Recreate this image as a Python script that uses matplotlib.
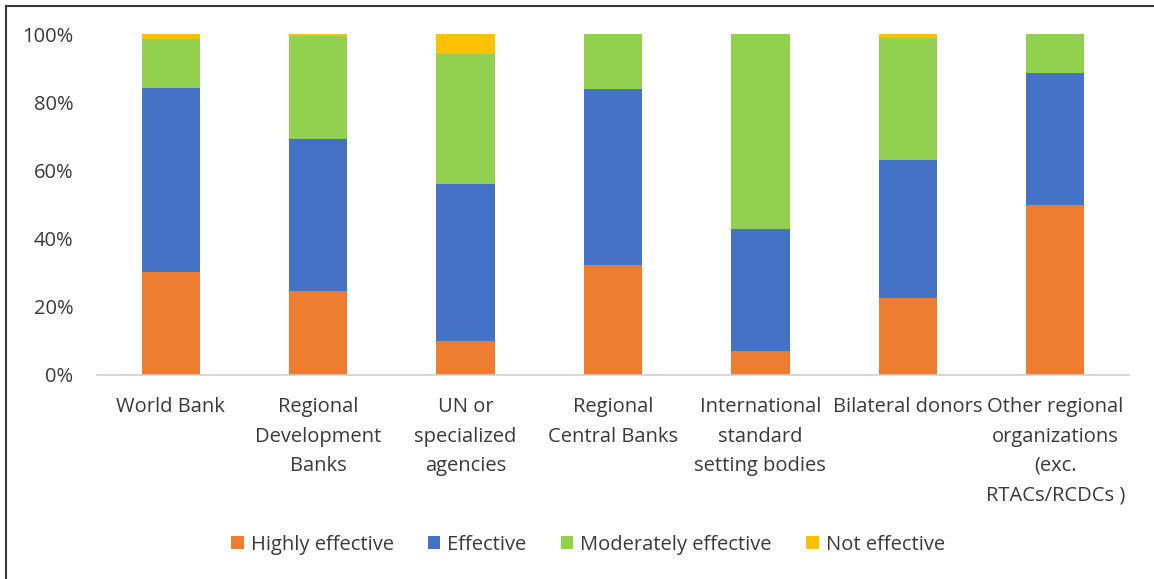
import matplotlib
matplotlib.use("Agg")
import matplotlib.pyplot as plt
from matplotlib.patches import Patch
from matplotlib.lines import Line2D
import numpy as np

categories = [
    "World Bank",
    "Regional\nDevelopment\nBanks",
    "UN or\nspecialized\nagencies",
    "Regional\nCentral Banks",
    "International\nstandard\nsetting bodies",
    "Bilateral donors",
    "Other regional\norganizations\n(exc.\nRTACs/RCDCs )",
]
series_names = ["Highly effective", "Effective", "Moderately effective", "Not effective"]
highly_effective = [30.2, 24.7, 10.0, 32.4, 7.1, 22.7, 50.0]
effective = [54.0, 44.4, 46.0, 51.4, 35.7, 40.3, 38.6]
moderately_effective = [14.3, 30.3, 38.0, 16.2, 57.2, 35.8, 11.4]
not_effective = [1.5, 0.6, 6.0, 0.0, 0.0, 1.2, 0.0]
y_ticks = [0, 20, 40, 60, 80, 100]

colors = ["#ED7D31", "#4472C4", "#92D050", "#FFC000"]
text_color = "#3a3a3a"
font = ["Open Sans", "DejaVu Sans"]
plt.rcParams["font.family"] = font

W, H = 1154, 579
fig = plt.figure(figsize=(W / 100, H / 100), dpi=100)
ax = fig.add_axes([97 / W, 1 - 375 / H, (1129 - 97) / W, (375 - 34) / H])

x = np.arange(len(categories))
bottom = np.zeros(len(categories))
for vals, col, name in zip(
    [highly_effective, effective, moderately_effective, not_effective], colors, series_names
):
    v = np.array(vals, dtype=float)
    ax.bar(x, v, width=0.395, bottom=bottom, color=col, label=name, zorder=2)
    bottom += v

ax.set_xlim(-0.5, len(categories) - 0.5)
ax.set_ylim(0, 100)
ax.set_yticks(y_ticks)
ax.set_yticklabels([f"{t}%" for t in y_ticks])
ax.set_xticks(x)
ax.set_xticklabels(categories, linespacing=1.62)

for s in ["top", "right", "left"]:
    ax.spines[s].set_visible(False)
ax.spines["bottom"].set_color("#D0D0D0")
ax.spines["bottom"].set_linewidth(1.2)
ax.tick_params(axis="both", length=0, labelsize=14.5, labelcolor=text_color)
ax.tick_params(axis="x", pad=16)
ax.tick_params(axis="y", pad=17)

handles = [Patch(facecolor=c, edgecolor="none") for c in colors]
fig.legend(
    handles,
    series_names,
    loc="center",
    bbox_to_anchor=(588 / W, 1 - 545 / H),
    ncol=4,
    frameon=False,
    fontsize=14.5,
    handlelength=0.62,
    handleheight=0.62,
    handletextpad=0.35,
    columnspacing=1.7,
    labelcolor=text_color,
)

# outer frame: top and left edges
fig.add_artist(Line2D([5.5 / W, 1.0], [1 - 5.5 / H, 1 - 5.5 / H], transform=fig.transFigure,
                      color="#3a3a3a", linewidth=1.5))
fig.add_artist(Line2D([5.5 / W, 5.5 / W], [0.0, 1 - 5.5 / H], transform=fig.transFigure,
                      color="#3a3a3a", linewidth=1.5))

fig.savefig("out.png", dpi=100, facecolor="white")
